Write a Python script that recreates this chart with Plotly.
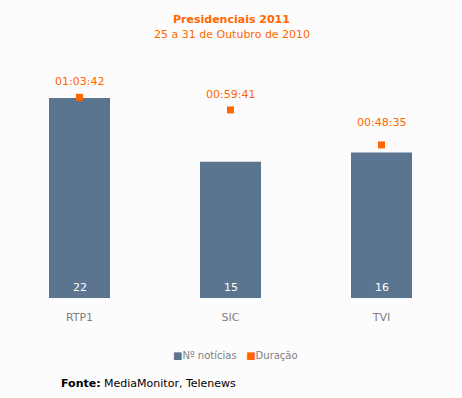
import plotly.graph_objects as go

categories = ["RTP1", "SIC", "TVI"]
noticias = [22, 15, 16]
duracao_labels = ["01:03:42", "00:59:41", "00:48:35"]


def to_seconds(s):
    h, m, sec = (int(p) for p in s.split(":"))
    return h * 3600 + m * 60 + sec


duracao_s = [to_seconds(s) for s in duracao_labels]
label_shift = [16, 15, 22]

BAR = "#5b7590"
ORANGE = "#ff6600"
BG = "#fcfcfc"
FONT = "DejaVu Sans"

fig = go.Figure()
fig.add_trace(go.Bar(
    x=categories, y=noticias, name="Nº notícias",
    marker=dict(color=BAR, line=dict(width=0)),
    showlegend=False, hoverinfo="skip",
))
fig.add_trace(go.Scatter(
    x=categories, y=duracao_s, name="Duração", yaxis="y2",
    mode="markers", marker=dict(symbol="square", size=7, color=ORANGE),
    showlegend=False, hoverinfo="skip",
))

annotations = []
for c, v in zip(categories, noticias):
    annotations.append(dict(x=c, y=0, xref="x", yref="y", text=str(v),
                            showarrow=False, yanchor="middle", yshift=11,
                            font=dict(family=FONT, size=11, color="white")))
for c, v, lab, sh in zip(categories, duracao_s, duracao_labels, label_shift):
    annotations.append(dict(x=c, y=v, xref="x", yref="y2", text=lab,
                            showarrow=False, yanchor="middle", yshift=sh,
                            font=dict(family=FONT, size=11, color=ORANGE)))

annotations += [
    dict(x=0.503, y=1.172, xref="paper", yref="paper", showarrow=False,
         text="<b>Presidenciais 2011</b>", yanchor="middle",
         font=dict(family=FONT, size=11, color=ORANGE)),
    dict(x=0.503, y=1.109, xref="paper", yref="paper", showarrow=False,
         text="25 a 31 de Outubro de 2010", yanchor="middle",
         font=dict(family=FONT, size=11, color=ORANGE)),
    dict(x=0.51, y=-0.2395, xref="paper", yref="paper", showarrow=False,
         text=f"<span style='color:{BAR}'>■</span>Nº notícias&nbsp;&nbsp;&nbsp;"
              f"<span style='color:{ORANGE}'>■</span>Duração",
         yanchor="middle",
         font=dict(family=FONT, size=10, color="#7f7f7f")),
    dict(x=0.121, y=-0.361, xref="paper", yref="paper", showarrow=False,
         text="<b>Fonte:</b> MediaMonitor, Telenews", xanchor="left",
         yanchor="middle",
         font=dict(family=FONT, size=11, color="#000000")),
]

fig.update_layout(
    width=462, height=398,
    margin=dict(l=4, r=5, t=60, b=100),
    paper_bgcolor=BG, plot_bgcolor=BG,
    bargap=0.596,
    xaxis=dict(showgrid=False, zeroline=False, showline=False,
               ticks="outside", ticklen=9, tickcolor=BG,
               tickfont=dict(family=FONT, size=11, color="#7f7f7f")),
    yaxis=dict(range=[0, 22 * 238 / 200], visible=False, fixedrange=True),
    yaxis2=dict(range=[0, 4532], overlaying="y", side="right",
                visible=False),
    annotations=annotations,
    showlegend=False,
)

fig.write_html(
    "out.html",
    config={"displayModeBar": False},
    post_script="document.body.style.margin='0';"
                "document.body.style.background='" + BG + "';",
)
